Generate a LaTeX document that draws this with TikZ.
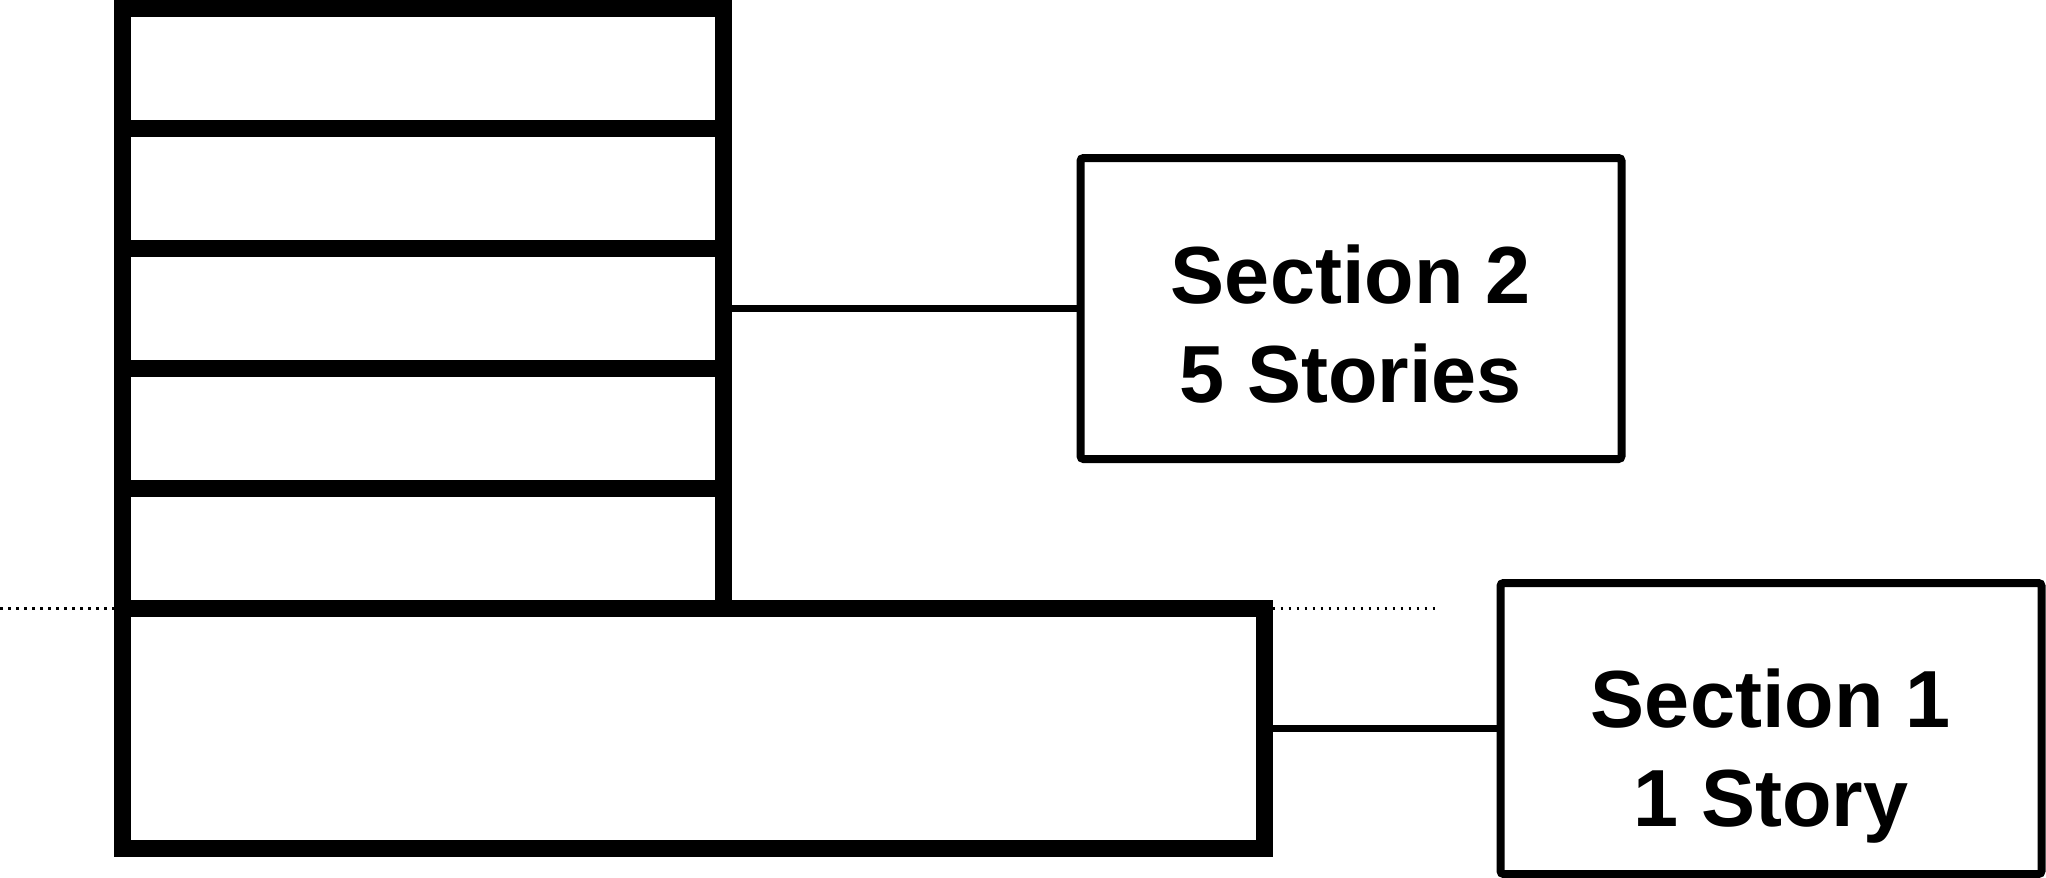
\documentclass[tikz,border=0pt]{standalone}
\usepackage{fontspec}
\setmainfont{Liberation Sans}
\begin{document}
\begin{tikzpicture}[x=0.5pt,y=-0.5pt,
  wall/.style={draw, line width=8.5pt, minimum width=#1, inner sep=0pt, outer sep=0pt},
  secbox/.style={draw, line width=4pt, rounded corners=1.5pt, minimum width=270.5pt, inner sep=0pt,
    align=center, font=\fontsize{40.5}{49.5}\selectfont\bfseries, text depth=0pt},
  link/.style={line width=3.5pt}]
  \useasboundingbox (0,0) rectangle (2046,878);
  \node[wall=300.5pt, minimum height=300pt] (tower) at (423,308.5) {};
  \node[wall=570.75pt, minimum height=120pt] (base) at (693.25,728.5) {};
  \foreach \y in {128.5,248.5,368.5,488.5}
    \draw[line width=8.5pt] (122.5,\y) -- (723.5,\y);
  \draw[line width=1.25pt, dash pattern=on 1.25pt off 2.75pt] (0,608.5) -- (114,608.5);
  \draw[line width=1.25pt, dash pattern=on 1.25pt off 2.75pt] (1272.5,608.5) -- (1440,608.5);
  \node[secbox, minimum height=150.5pt, text height=93.5pt] (sec2) at (1351,308.5) {Section 2\\5 Stories};
  \node[secbox, minimum height=145.5pt, text height=98pt] (sec1) at (1771,728.5) {Section 1\\1 Story};
  \draw[link] (tower.east) -- (sec2.west);
  \draw[link] (base.east) -- (sec1.west);
\end{tikzpicture}
\end{document}
